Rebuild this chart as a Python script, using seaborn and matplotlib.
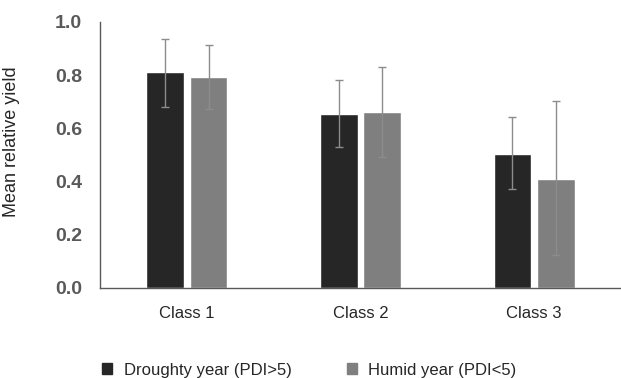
import matplotlib
matplotlib.use("Agg")
import matplotlib.pyplot as plt
import numpy as np
import pandas as pd
import seaborn as sns

classes = ["Class 1", "Class 2", "Class 3"]
years = ["Droughty year (PDI>5)", "Humid year (PDI<5)"]
droughty_mean = [0.812, 0.654, 0.504]
droughty_low = [0.680, 0.530, 0.373]
droughty_high = [0.936, 0.782, 0.643]
humid_mean = [0.793, 0.662, 0.410]
humid_low = [0.673, 0.494, 0.124]
humid_high = [0.914, 0.830, 0.703]

df = pd.DataFrame({
    "Class": classes * 2,
    "Year": [years[0]] * 3 + [years[1]] * 3,
    "Yield": droughty_mean + humid_mean,
})

sns.set_theme(style="white")
plt.rcParams["font.family"] = ["Liberation Sans", "DejaVu Sans"]

fig = plt.figure(figsize=(6.21, 3.78), dpi=100)
ax = fig.add_axes([100 / 621, 1 - 288 / 378, 521 / 621, 266 / 378])

palette = {years[0]: "#262626", years[1]: "#7f7f7f"}
sns.barplot(data=df, x="Class", y="Yield", hue="Year", palette=palette,
            width=0.5, gap=0.13, errorbar=None, saturation=1,
            legend=False, ax=ax)

# asymmetric error bars placed on the bar centres
lows = [droughty_low, humid_low]
highs = [droughty_high, humid_high]
means = [droughty_mean, humid_mean]
for cont, lo, hi, mu in zip(ax.containers, lows, highs, means):
    xs = [p.get_x() + p.get_width() / 2 for p in cont.patches]
    mu = np.array(mu)
    yerr = [mu - np.array(lo), np.array(hi) - mu]
    ax.errorbar(xs, mu, yerr=yerr, fmt="none", ecolor="#8c8c8c",
                elinewidth=1, capsize=3, capthick=1)

ax.set_xlim(-0.5, 2.5)
ax.set_ylim(0, 1.0)
ax.set_yticks([0, 0.2, 0.4, 0.6, 0.8, 1.0])
ax.set_yticklabels(["0.0", "0.2", "0.4", "0.6", "0.8", "1.0"],
                   fontweight="bold", color="#595959", fontsize=14)
ax.tick_params(axis="y", length=0, pad=13)
ax.tick_params(axis="x", length=0, pad=13, labelsize=12, labelcolor="#262626")
ax.set_xlabel("")
ax.set_ylabel("Mean relative yield", fontsize=13, color="#262626")
ax.yaxis.set_label_coords(-0.153, 0.55)

sns.despine(ax=ax)
for side in ["left", "bottom"]:
    ax.spines[side].set_color("#595959")
    ax.spines[side].set_linewidth(1.0)

handles = [plt.Rectangle((0, 0), 1, 1, color=palette[y]) for y in years]
fig.legend(handles, years, loc="center left", bbox_to_anchor=(102 / 621, 1 - 370 / 378),
           ncol=2, frameon=False, fontsize=12, handlelength=0.6, handleheight=0.6,
           handletextpad=0.7, columnspacing=3.3, borderpad=0, borderaxespad=0)

fig.savefig("out.png", dpi=100)
